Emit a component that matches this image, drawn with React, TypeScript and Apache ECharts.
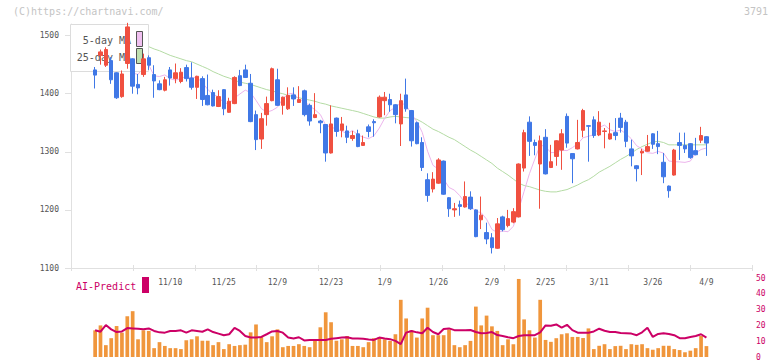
import React, { useEffect, useRef } from "react";
import * as echarts from "echarts";

const dates = [
  "10/20","10/21","10/22","10/23","10/24","10/27","10/28","10/29","10/30","10/31",
  "11/4","11/5","11/6","11/7","11/10","11/11","11/12","11/13","11/14","11/17","11/18","11/19","11/20","11/21","11/25","11/26","11/27","11/28",
  "12/1","12/2","12/3","12/4","12/5","12/8","12/9","12/10","12/11","12/12","12/15","12/16","12/17","12/18","12/19","12/22","12/23","12/24","12/25","12/26","12/29","12/30",
  "1/5","1/6","1/7","1/8","1/9","1/13","1/14","1/15","1/16","1/19","1/20","1/21","1/22","1/23","1/26","1/27","1/28","1/29","1/30",
  "2/2","2/3","2/4","2/5","2/6","2/9","2/10","2/12","2/13","2/16","2/17","2/18","2/19","2/20","2/24","2/25","2/26","2/27",
  "3/2","3/3","3/4","3/5","3/6","3/9","3/10","3/11","3/12","3/13","3/16","3/17","3/18","3/19","3/23","3/24","3/25","3/26","3/27","3/30","3/31",
  "4/1","4/2","4/3","4/6","4/7","4/8","4/9",
];

const labelDates = ["11/10","11/25","12/9","12/23","1/9","1/26","2/9","2/25","3/11","3/26","4/9"];

const opens = [
  1441,1466,1449,1457,1436,1395,1452,1460,1416,1433,1462,1433,1417,1406,1441,1426,1421,1445,1427,1411,
  1426,1397,1402,1378,1407,1368,1383,1431,1441,1418,1364,1322,1364,1388,1424,1380,1374,1398,1385,1405,
  1380,1359,1353,1347,1298,1358,1337,1336,1323,1331,1311,1343,1352,1360,1388,1390,1381,1348,1398,1371,
  1350,1316,1252,1236,1246,1284,1221,1200,1209,1205,1222,1200,1183,1161,1152,1134,1188,1173,1179,1188,
  1272,1351,1316,1279,1325,1273,1292,1303,1361,1297,1305,1337,1345,1355,1329,1335,1322,1333,1358,1351,
  1305,1276,1298,1301,1331,1314,1282,1241,1260,1316,1311,1314,1302,1320,1326,
];
const closes = [
  1432,1472,1476,1424,1393,1434,1515,1413,1410,1460,1449,1422,1407,1424,1427,1436,1437,1426,1411,1430,
  1390,1381,1379,1395,1374,1387,1428,1414,1428,1352,1321,1357,1383,1443,1380,1394,1397,1391,1390,1364,
  1353,1364,1350,1298,1348,1335,1348,1325,1328,1309,1316,1335,1350,1394,1394,1381,1364,1388,1374,1319,
  1314,1273,1225,1253,1286,1227,1202,1202,1206,1223,1202,1154,1191,1150,1135,1176,1166,1185,1197,1279,
  1333,1318,1311,1319,1262,1283,1319,1331,1315,1288,1316,1371,1344,1328,1351,1336,1331,1328,1342,1318,
  1293,1271,1301,1309,1313,1309,1257,1233,1303,1311,1305,1290,1295,1328,1315,
];
const lows = [
  1409,1450,1446,1417,1391,1393,1443,1400,1399,1429,1441,1393,1406,1404,1414,1418,1418,1421,1407,1391,
  1379,1380,1378,1377,1363,1367,1382,1413,1427,1351,1303,1305,1345,1387,1379,1364,1372,1379,1384,1361,
  1345,1358,1332,1283,1297,1326,1325,1315,1319,1308,1310,1325,1326,1359,1363,1369,1349,1310,1369,1309,
  1313,1267,1214,1230,1245,1226,1188,1188,1190,1204,1200,1153,1167,1141,1125,1133,1163,1170,1177,1187,
  1266,1293,1294,1202,1261,1272,1276,1269,1307,1246,1304,1325,1283,1324,1327,1306,1321,1320,1333,1308,
  1275,1249,1260,1300,1305,1296,1246,1221,1259,1286,1298,1288,1294,1315,1293,
];
const highs = [
  1446,1476,1480,1463,1437,1440,1522,1461,1434,1469,1466,1449,1423,1429,1446,1452,1444,1450,1454,1431,
  1430,1433,1407,1406,1408,1393,1430,1441,1450,1434,1371,1367,1395,1445,1443,1395,1411,1411,1413,1407,
  1383,1401,1355,1347,1380,1359,1360,1345,1336,1338,1328,1347,1356,1397,1403,1400,1382,1400,1426,1372,
  1352,1325,1263,1265,1289,1285,1222,1212,1216,1249,1232,1201,1223,1178,1160,1186,1190,1200,1203,1280,
  1338,1361,1321,1328,1339,1312,1320,1339,1366,1297,1355,1374,1346,1361,1370,1341,1350,1358,1367,1355,
  1321,1277,1305,1329,1332,1336,1298,1242,1305,1333,1333,1315,1324,1343,1327,
];

const ma5 = [
  1440,1443,1447,1444,1439.4,1439.8,1448.4,1435.8,1433,1446.4,1449.4,1430.8,1429.6,1432.4,1425.8,1423.2,1426.2,1430,1427.4,1428,
  1418.8,1407.6,1398.2,1395,1383.8,1383.2,1392.6,1399.6,1406.2,1401.8,1388.6,1374.4,1368.2,1371.2,1376.8,1391.4,1399.4,1401,1390.4,1387.2,
  1379,1372.4,1364.2,1345.8,1342.6,1339,1335.8,1330.8,1336.8,1329,1325.2,1322.6,1327.6,1340.8,1357.8,1370.8,1376.6,1384.2,1380.2,1365.2,
  1351.8,1333.6,1301,1276.8,1270.2,1252.8,1238.6,1234,1224.6,1212,1207,1197.4,1195.2,1184,1166.4,1161.2,1163.6,1162.4,1171.8,1200.6,
  1232,1262.4,1287.6,1312,1308.6,1298.6,1298.8,1302.8,1302,1307.2,1313.8,1324.2,1326.8,1329.4,1342,1346,1338,1334.8,1337.6,1331,
  1322.4,1310.4,1305,1298.4,1297.4,1300.6,1297.8,1284.2,1283,1282.6,1281.8,1284,1298,1304,1306.6,
];
const ma25 = [
  null,null,null,null,null,null,null,null,null,1484,1481,1477,1474,1470,1466,1463,1460,1457,1455,1451,
  1447,1443,1438,1434,1430,1427,1423,1420,1418,1416,1413,1410,1407,1405,1402,1400,1397,1395,1393,1391,
  1389,1387,1384,1382,1379,1377,1375,1373,1371,1369,1366,1363,1360,1358,1358,1360,1361,1360,1359,1358,
  1356,1351,1345,1339,1335,1330,1325,1321,1315,1309,1303,1298,1292,1286,1280,1272,1266,1260,1253,1246,
  1242,1240,1237,1234,1232,1231,1231,1233,1235,1239,1243,1248,1252,1258,1265,1270,1275,1281,1287,1292,
  1298,1304,1309,1313,1317,1318,1316,1312,1312,1312,1312,1312,1312,1312,1312,
];

const volumes = [
  16.9,20,7.5,11.9,19.6,15.4,25.8,29,11.2,16.9,16.5,5.6,9.4,7,5.6,5.6,5,10.6,11.2,13.1,
  10.3,10.3,7.5,9.4,5,8.1,7,7.5,7.8,15.6,20.6,13.1,9.4,13.1,17.5,6.2,7,7,8.1,7,
  6.2,10.6,18.8,28.3,22,10.3,11.2,13.3,7,7,6.2,9.4,11.9,12.5,11.2,10.2,14.4,36.2,24.4,16.9,
  12.3,24.4,31.2,13.8,13.8,13.8,17.5,7.5,6.2,7.5,10.2,31.9,20,26.2,19.4,16.5,7.5,11.2,8.1,49.4,
  23.8,16.9,12.3,36.2,10.8,9.6,11.9,14.4,15,12.7,12.7,12,18.1,5,7.1,8.1,5,6.9,7.1,5,
  8.1,7.7,8.1,5.6,4.6,5.6,7.1,7.1,5,4.4,3,4,5.6,13.3,6.9,
];
const aiPredict = [
  16.9,16,20.2,17.5,15.8,16.2,18.3,18.1,17.9,17.5,18.1,16.5,15.6,15.4,16.5,16.5,16.9,15.4,16.9,16.5,
  16,17.5,15.8,14.8,13.8,14.4,18.5,16.5,13.3,12.3,12.3,12.7,14.4,16.2,16.5,15.4,12.3,11.7,12.5,10.5,
  10.8,10.8,10.8,10.8,11.5,11.9,12.3,12.5,11.7,11.7,11.5,11.1,10.8,12.3,11.7,11.3,10.2,8.1,15.4,16.5,
  15.6,15,18.5,15.8,14.4,17.7,18.1,17,16.9,17,17.1,15.8,15,15.2,15.8,13.9,13.3,12.5,11.9,13.3,
  13.8,13.8,13.8,15.6,20,19.8,20.6,18.6,20.4,17,15.4,15.4,15.4,16.2,17.9,16.6,15.8,15.8,15.2,15,
  14.8,13.8,15.6,18.5,12.7,14.6,15,14.6,13.8,11.9,11.9,12.7,13.3,14.4,12.3,
];

const priceTicks = [1100, 1200, 1300, 1400, 1500];

const PAD_BEFORE = 4;
const PAD_AFTER = 8;
const MONO = "DejaVu Sans Mono";

export default function App() {
  const ref = useRef<HTMLDivElement>(null);

  useEffect(() => {
    document.body.style.margin = "0";
    const chart = echarts.init(ref.current as HTMLDivElement, null, { renderer: "svg" });

    const cats = [
      ...Array.from({ length: PAD_BEFORE }, (_, i) => "pre" + i),
      ...dates,
      ...Array.from({ length: PAD_AFTER }, (_, i) => "post" + i),
    ];
    const pad = (arr: (number | null)[]) => [
      ...Array(PAD_BEFORE).fill("-"),
      ...arr.map((v) => (v == null ? "-" : v)),
      ...Array(PAD_AFTER).fill("-"),
    ];
    const candleData = dates.map((_, i) => [i + PAD_BEFORE, opens[i], closes[i], lows[i], highs[i]]);
    const labelSet = new Set(labelDates);

    const tickAxis = (inside: boolean) => ({
      type: "value",
      gridIndex: 0,
      min: 0,
      max: 11,
      interval: 1,
      position: "bottom",
      axisLine: { show: false },
      axisTick: { show: true, inside, length: 3, lineStyle: { color: "#e0e0e0", width: 1 } },
      axisLabel: { show: false },
      splitLine: { show: false },
    });

    chart.setOption({
      animation: false,
      backgroundColor: "#ffffff",
      grid: [
        { left: 71, right: 20, top: 24, bottom: 93 },
        { left: 71, right: 20, top: 278, bottom: 3 },
      ],
      xAxis: [
        {
          type: "category",
          gridIndex: 0,
          data: cats,
          boundaryGap: true,
          axisLine: { show: true, lineStyle: { color: "#e0e0e0", width: 1 } },
          axisTick: { show: false },
          axisLabel: {
            interval: (_idx: number, val: string) => labelSet.has(val),
            color: "#555555",
            fontSize: 8,
            fontFamily: MONO,
            margin: 10,
          },
          splitLine: { show: false },
        },
        tickAxis(false),
        tickAxis(true),
        {
          type: "category",
          gridIndex: 1,
          data: cats,
          boundaryGap: true,
          show: false,
        },
      ],
      yAxis: [
        {
          type: "value",
          gridIndex: 0,
          min: 1100,
          max: 1520,
          interval: 100,
          position: "left",
          axisLine: { show: true, lineStyle: { color: "#e0e0e0", width: 1 } },
          axisTick: { show: true, length: 6, lineStyle: { color: "#e0e0e0" }, customValues: priceTicks },
          axisLabel: {
            color: "#555555",
            fontSize: 8,
            fontFamily: MONO,
            margin: 12,
            customValues: priceTicks,
            formatter: (v: number) => String(Math.round(v)),
          },
          splitLine: { show: false },
        },
        {
          type: "value",
          gridIndex: 1,
          min: 0,
          max: 50,
          interval: 10,
          position: "right",
          axisLine: { show: false },
          axisTick: { show: false },
          axisLabel: { color: "#cc0066", fontSize: 8, fontFamily: MONO, margin: 4 },
          splitLine: { show: false },
        },
      ],
      series: [
        {
          name: "25-day MA",
          type: "line",
          xAxisIndex: 0,
          yAxisIndex: 0,
          data: pad(ma25),
          showSymbol: false,
          lineStyle: { color: "#b4dba4", width: 1 },
          z: 1,
        },
        {
          name: "5-day MA",
          type: "line",
          xAxisIndex: 0,
          yAxisIndex: 0,
          data: pad(ma5),
          showSymbol: false,
          lineStyle: { color: "#ecb4ec", width: 1 },
          z: 1,
        },
        {
          name: "price",
          type: "candlestick",
          xAxisIndex: 0,
          yAxisIndex: 0,
          data: candleData,
          encode: { x: 0, y: [1, 2, 3, 4] },
          barWidth: 4,
          clip: false,
          itemStyle: {
            color: "#f05040",
            color0: "#4078e6",
            borderColor: "#f05040",
            borderColor0: "#4078e6",
            borderWidth: 1,
          },
          z: 3,
        },
        {
          name: "volume",
          type: "bar",
          xAxisIndex: 3,
          yAxisIndex: 1,
          data: pad(volumes),
          barWidth: 3.7,
          itemStyle: { color: "#f0963c" },
          z: 2,
        },
        {
          name: "AI-Predict",
          type: "line",
          xAxisIndex: 3,
          yAxisIndex: 1,
          data: pad(aiPredict),
          showSymbol: false,
          lineStyle: { color: "#cc0066", width: 2 },
          z: 4,
        },
      ],
      graphic: [
        {
          type: "text",
          x: 13,
          y: 11,
          z: 5,
          style: { text: "(C)https://chartnavi.com/", fill: "#c4c4c4", font: `10px '${MONO}'`, align: "left", verticalAlign: "middle" },
        },
        {
          type: "text",
          x: 768,
          y: 11,
          z: 5,
          style: { text: "3791", fill: "#c4c4c4", font: `10px '${MONO}'`, align: "right", verticalAlign: "middle" },
        },
        {
          type: "rect",
          z: 2,
          shape: { x: 70.5, y: 24.5, width: 78, height: 47 },
          style: { fill: "#ffffff", stroke: "#dcdcdc", lineWidth: 1 },
        },
        {
          type: "text",
          x: 131,
          y: 40,
          z: 2,
          style: { text: "5-day MA", fill: "#555555", font: `10px '${MONO}'`, align: "right", verticalAlign: "middle" },
        },
        {
          type: "text",
          x: 131,
          y: 57,
          z: 2,
          style: { text: "25-day MA", fill: "#555555", font: `10px '${MONO}'`, align: "right", verticalAlign: "middle" },
        },
        {
          type: "rect",
          z: 2,
          shape: { x: 136.5, y: 31.5, width: 6, height: 15 },
          style: { fill: "#f0c0f0", stroke: "#555555", lineWidth: 1 },
        },
        {
          type: "rect",
          z: 2,
          shape: { x: 136.5, y: 48.5, width: 6, height: 15 },
          style: { fill: "#bfe0b0", stroke: "#555555", lineWidth: 1 },
        },
        {
          type: "text",
          x: 76,
          y: 286,
          z: 5,
          style: { text: "AI-Predict", fill: "#cc0066", font: `10px '${MONO}'`, align: "left", verticalAlign: "middle" },
        },
        {
          type: "rect",
          z: 5,
          shape: { x: 142, y: 277, width: 7, height: 16 },
          style: { fill: "#cc0066" },
        },
      ],
    });

    return () => chart.dispose();
  }, []);

  return <div ref={ref} style={{ width: 772, height: 361 }} />;
}
